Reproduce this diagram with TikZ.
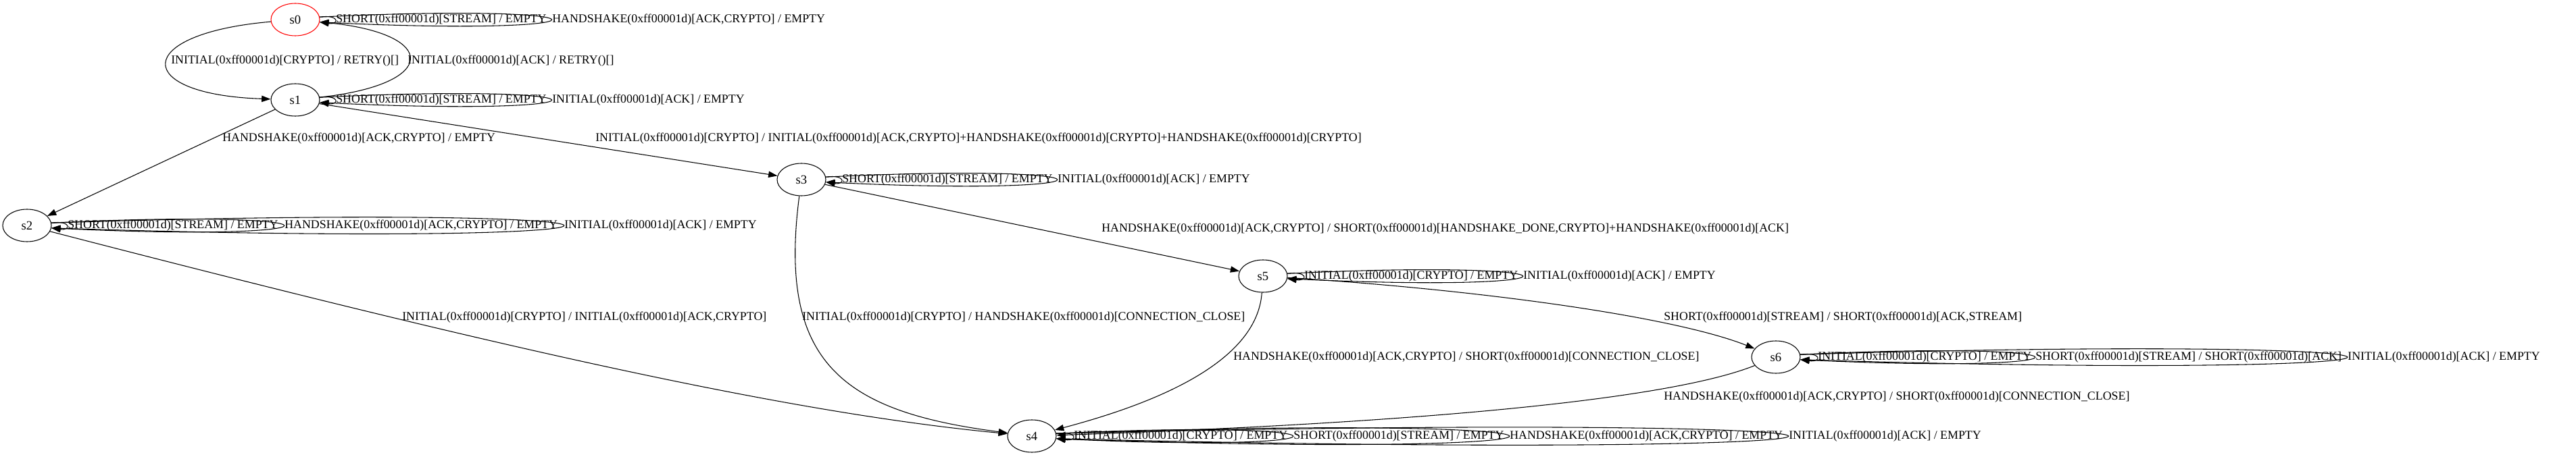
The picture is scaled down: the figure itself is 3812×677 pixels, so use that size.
\documentclass[tikz,border=0pt]{standalone}
\usepackage{fontspec}
\setmainfont{Liberation Serif}
\usetikzlibrary{shapes.geometric,arrows.meta}

\begin{document}
\begin{tikzpicture}[x=0.75pt,y=-0.75pt,
    stnode/.style={draw, line width=0.8pt, ellipse, minimum width=54pt, minimum height=36pt, inner sep=0pt, font=\fontsize{14}{16}\selectfont},
    lbl/.style={anchor=west, inner sep=0pt, font=\fontsize{13.4}{16}\selectfont},
    trans/.style={line width=0.8pt, -{Triangle[length=10pt,width=7pt]}}]
    \useasboundingbox (0,0) rectangle (3812,677);

    % states
    \node[stnode,draw=red] (s0) at (437,29) {s0};
    \node[stnode] (s1) at (437,148) {s1};
    \node[stnode] (s2) at (40,334) {s2};
    \node[stnode] (s3) at (1186,266) {s3};
    \node[stnode] (s5) at (1869,409) {s5};
    \node[stnode] (s6) at (2628,529) {s6};
    \node[stnode] (s4) at (1527,646) {s4};

    % transitions
    \draw[trans] (s0) .. controls (195,50) and (195,140) .. (s1);
    \draw[trans] (s1) .. controls (650,125) and (650,50) .. (s0);
    \draw[trans] (s1) -- (s2);
    \draw[trans] (s1) -- (s3);
    \draw[trans] (s2) .. controls (700,505) and (1150,610) .. (s4);
    \draw[trans] (s3) -- (s5);
    \draw[trans] (s3) .. controls (1150,540) and (1250,610) .. (s4);
    \draw[trans] (s5) .. controls (1860,540) and (1700,600) .. (s4);
    \draw[trans] (s5) .. controls (2200,430) and (2480,470) .. (s6);
    \draw[trans] (s6) .. controls (2450,600) and (2000,630) .. (s4);

    \node[lbl] (t01) at (253,90) {INITIAL(0xff00001d)[CRYPTO] / RETRY()[]};
    \node[lbl] (t10) at (603,90) {INITIAL(0xff00001d)[ACK] / RETRY()[]};
    \node[lbl] (t12) at (329,205) {HANDSHAKE(0xff00001d)[ACK,CRYPTO] / EMPTY};
    \node[lbl] (t13) at (881,205) {INITIAL(0xff00001d)[CRYPTO] / INITIAL(0xff00001d)[ACK,CRYPTO]+HANDSHAKE(0xff00001d)[CRYPTO]+HANDSHAKE(0xff00001d)[CRYPTO]};
    \node[lbl] (t24) at (595,470) {INITIAL(0xff00001d)[CRYPTO] / INITIAL(0xff00001d)[ACK,CRYPTO]};
    \node[lbl] (t34) at (1187,470) {INITIAL(0xff00001d)[CRYPTO] / HANDSHAKE(0xff00001d)[CONNECTION\_CLOSE]};
    \node[lbl] (t35) at (1630,339) {HANDSHAKE(0xff00001d)[ACK,CRYPTO] / SHORT(0xff00001d)[HANDSHAKE\_DONE,CRYPTO]+HANDSHAKE(0xff00001d)[ACK]};
    \node[lbl] (t54) at (1825,529) {HANDSHAKE(0xff00001d)[ACK,CRYPTO] / SHORT(0xff00001d)[CONNECTION\_CLOSE]};
    \node[lbl] (t56) at (2462,470) {SHORT(0xff00001d)[STREAM] / SHORT(0xff00001d)[ACK,STREAM]};
    \node[lbl] (t64) at (2462,588) {HANDSHAKE(0xff00001d)[ACK,CRYPTO] / SHORT(0xff00001d)[CONNECTION\_CLOSE]};

    % self loops
    \draw[trans] (s0.6) .. controls (502.5,21) and (502.5,37) .. (s0.-6);
    \draw[trans] (s0.6) .. controls (929,3) and (929,55) .. (s0.-6);
    \node[lbl] (t00a) at (497,29) {SHORT(0xff00001d)[STREAM] / EMPTY};
    \node[lbl] (t00b) at (817,29) {HANDSHAKE(0xff00001d)[ACK,CRYPTO] / EMPTY};

    \draw[trans] (s1.6) .. controls (502.5,140) and (502.5,156) .. (s1.-6);
    \draw[trans] (s1.6) .. controls (929,122) and (929,174) .. (s1.-6);
    \node[lbl] (t11a) at (497,148) {SHORT(0xff00001d)[STREAM] / EMPTY};
    \node[lbl] (t11b) at (817,148) {INITIAL(0xff00001d)[ACK] / EMPTY};

    \draw[trans] (s2.6) .. controls (105.5,326) and (105.5,342) .. (s2.-6);
    \draw[trans] (s2.6) .. controls (533.5,308) and (533.5,360) .. (s2.-6);
    \draw[trans] (s2.6) .. controls (1085.5,298) and (1085.5,370) .. (s2.-6);
    \node[lbl] (t22a) at (100,334) {SHORT(0xff00001d)[STREAM] / EMPTY};
    \node[lbl] (t22b) at (421,334) {HANDSHAKE(0xff00001d)[ACK,CRYPTO] / EMPTY};
    \node[lbl] (t22c) at (835,334) {INITIAL(0xff00001d)[ACK] / EMPTY};

    \draw[trans] (s3.6) .. controls (1251.5,258) and (1251.5,274) .. (s3.-6);
    \draw[trans] (s3.6) .. controls (1676.8,240) and (1676.8,292) .. (s3.-6);
    \node[lbl] (t33a) at (1246,266) {SHORT(0xff00001d)[STREAM] / EMPTY};
    \node[lbl] (t33b) at (1565,266) {INITIAL(0xff00001d)[ACK] / EMPTY};

    \draw[trans] (s5.6) .. controls (1935.8,401) and (1935.8,417) .. (s5.-6);
    \draw[trans] (s5.6) .. controls (2367.8,383) and (2367.8,435) .. (s5.-6);
    \node[lbl] (t55a) at (1930,409) {INITIAL(0xff00001d)[CRYPTO] / EMPTY};
    \node[lbl] (t55b) at (2254,409) {INITIAL(0xff00001d)[ACK] / EMPTY};

    \draw[trans] (s6.6) .. controls (2696.2,521) and (2696.2,537) .. (s6.-6);
    \draw[trans] (s6.6) .. controls (3125.5,503) and (3125.5,555) .. (s6.-6);
    \draw[trans] (s6.6) .. controls (3741.5,493) and (3741.5,565) .. (s6.-6);
    \node[lbl] (t66a) at (2690,529) {INITIAL(0xff00001d)[CRYPTO] / EMPTY};
    \node[lbl] (t66b) at (3012,529) {SHORT(0xff00001d)[STREAM] / SHORT(0xff00001d)[ACK]};
    \node[lbl] (t66c) at (3474,529) {INITIAL(0xff00001d)[ACK] / EMPTY};

    \draw[trans] (s4.6) .. controls (1595.2,638) and (1595.2,654) .. (s4.-6);
    \draw[trans] (s4.6) .. controls (2028.5,620) and (2028.5,672) .. (s4.-6);
    \draw[trans] (s4.6) .. controls (2455.2,610) and (2455.2,682) .. (s4.-6);
    \draw[trans] (s4.6) .. controls (3005.8,607) and (3005.8,685) .. (s4.-6);
    \node[lbl] (t44a) at (1589,646) {INITIAL(0xff00001d)[CRYPTO] / EMPTY};
    \node[lbl] (t44b) at (1914,646) {SHORT(0xff00001d)[STREAM] / EMPTY};
    \node[lbl] (t44c) at (2234,646) {HANDSHAKE(0xff00001d)[ACK,CRYPTO] / EMPTY};
    \node[lbl] (t44d) at (2647,646) {INITIAL(0xff00001d)[ACK] / EMPTY};
\end{tikzpicture}
\end{document}
